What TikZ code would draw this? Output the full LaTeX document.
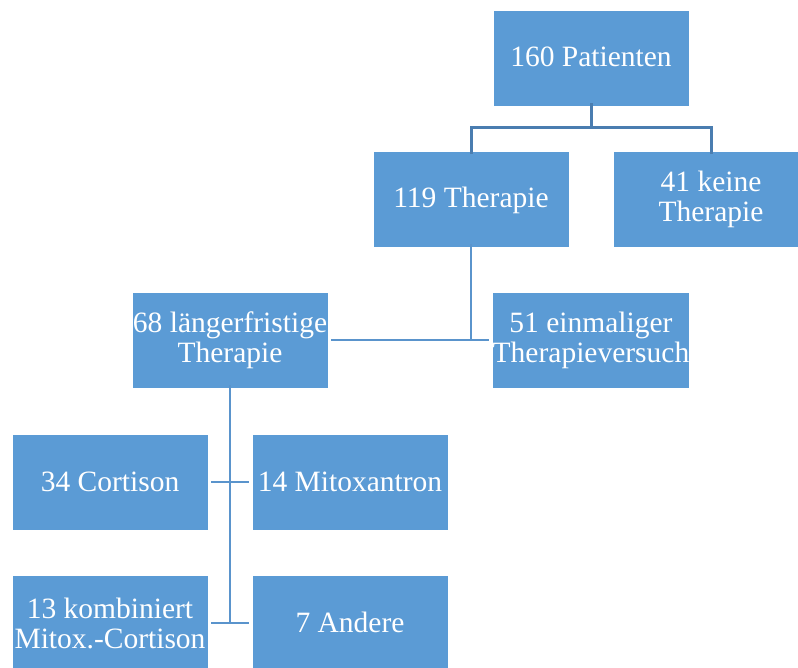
\documentclass[tikz,border=0pt]{standalone}
\usepackage{fontspec}
\setmainfont{Liberation Serif}
\definecolor{boxblue}{HTML}{5B9BD5}
\definecolor{topline}{HTML}{4A7DB0}
\definecolor{subline}{HTML}{5A94CC}
\begin{document}
\begin{tikzpicture}[x=1pt,y=-1pt,
  box/.style={fill=boxblue,draw=white,line width=0.6pt,minimum width=196pt,minimum height=96pt,inner sep=0pt,
    text=white,align=center,font=\fontsize{29.5}{30}\selectfont},
  onebox/.style={box,text height=23pt,text depth=5pt},
  conntop/.style={draw=topline,line width=3pt},
  conn/.style={draw=subline,line width=2.8pt}]
\useasboundingbox (0,0) rectangle (798,668);
\begin{scope}
\clip (0,0) rectangle (798,668);
\node[onebox] (p160) at (591,58) {160 Patienten};
\node[onebox] (t119) at (471,199) {119 Therapie};
\node[box] (k41) at (711,199) {41 keine\\Therapie};
\node[box] (l68) at (230,340) {68 längerfristige\\Therapie};
\node[box] (e51) at (591,340) {51 einmaliger\\Therapieversuch};
\node[onebox] (c34) at (110,482) {34 Cortison};
\node[onebox] (m14) at (350,482) {14 Mitoxantron};
\node[box] (k13) at (110,623) {13 kombiniert\\Mitox.-Cortison};
\node[onebox] (a7) at (350,623) {7 Andere};
\coordinate (tb) at (591,128);
\draw[conntop] ([yshift=3pt]p160.south) -- (tb);
\draw[conntop] ([yshift=-3pt]t119.north) -- (t119.north |- tb) -- (k41.north |- tb) -- ([yshift=-3pt]k41.north);
\coordinate (mj) at (t119.south |- l68.east);
\draw[conn] ([yshift=3pt]t119.south) -- (mj);
\draw[conn] ([xshift=3pt]l68.east) -- ([xshift=-3pt]e51.west);
\coordinate (lj) at (l68.south |- k13.east);
\draw[conn] ([yshift=3pt]l68.south) -- (lj);
\draw[conn] ([xshift=3pt]c34.east) -- ([xshift=-3pt]m14.west);
\draw[conn] ([xshift=3pt]k13.east) -- ([xshift=-3pt]a7.west);
\end{scope}
\end{tikzpicture}
\end{document}
